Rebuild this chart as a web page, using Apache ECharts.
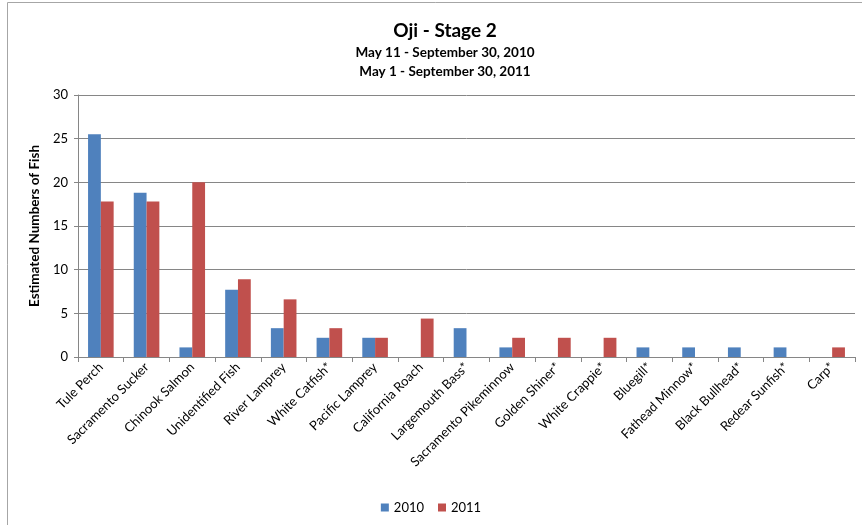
<!DOCTYPE html>
<html><head><meta charset="utf-8">
<script src="https://cdn.jsdelivr.net/npm/echarts@6/dist/echarts.min.js"></script>
<style>html,body{margin:0;padding:0;background:#fff}#c{width:862px;height:525px}</style>
</head><body><div id="c"></div>
<script>
const categories = ["Tule Perch","Sacramento Sucker","Chinook Salmon","Unidentified Fish","River Lamprey","White Catfish*","Pacific Lamprey","California Roach","Largemouth Bass*","Sacramento Pikeminnow","Golden Shiner*","White Crappie*","Bluegill*","Fathead Minnow*","Black Bullhead*","Redear Sunfish*","Carp*"];
const values2010 = [25.5,18.8,1.1,7.7,3.3,2.2,2.2,0,3.3,1.1,0,0,1.1,1.1,1.1,1.1,0];
const values2011 = [17.8,17.8,20.0,8.9,6.6,3.3,2.2,4.4,0,2.2,2.2,2.2,0,0,0,0,1.1];
const seriesNames = ["2010","2011"];
const titleText = "Oji - Stage 2";
const subtitleLines = ["May 11 - September 30, 2010","May 1 - September 30, 2011"];
const yAxisName = "Estimated Numbers of Fish";

const FONT = "Lato";
const chart = echarts.init(document.getElementById('c'), null, {renderer:'canvas'});
chart.setOption({
  animation:false,
  textStyle:{fontFamily:FONT},
  graphic:[{type:'rect',shape:{x:7.5,y:2.5,width:900,height:600},style:{fill:'none',stroke:'#a6a6a6',lineWidth:1},silent:true,z:-1}],
  title:[
    {text:titleText,left:440,top:16,textAlign:'center',textStyle:{fontFamily:FONT,fontSize:19,fontWeight:'bold',color:'#000'}},
    {text:subtitleLines.join('\n'),left:440,top:38,textAlign:'center',textStyle:{fontFamily:FONT,fontSize:13.5,fontWeight:'bold',color:'#000',lineHeight:19}}
  ],
  legend:{bottom:6,left:'center',itemWidth:8,itemHeight:8,itemGap:14,icon:'rect',textStyle:{fontFamily:FONT,fontSize:13,color:'#000'},data:seriesNames},
  grid:{left:78,right:7,top:95,bottom:168,containLabel:false},
  xAxis:{type:'category',data:categories,boundaryGap:true,
    axisLine:{lineStyle:{color:'#868686',width:1}},
    axisTick:{show:true,alignWithLabel:false,length:5,lineStyle:{color:'#868686'}},
    axisLabel:{rotate:45,interval:0,fontFamily:FONT,fontSize:13,color:'#000',margin:8}},
  yAxis:{type:'value',min:0,max:30,interval:5,
    name:yAxisName,nameLocation:'middle',nameGap:32,nameTextStyle:{fontFamily:FONT,fontSize:13.5,fontWeight:'bold',color:'#000'},
    axisLine:{show:true,lineStyle:{color:'#868686'}},
    axisTick:{show:true,length:4,lineStyle:{color:'#868686'}},
    axisLabel:{fontFamily:FONT,fontSize:13,color:'#000',margin:10},
    splitLine:{lineStyle:{color:'#868686',width:1}}},
  series:[
    {name:seriesNames[0],type:'bar',data:values2010,barWidth:'28%',barGap:'0%',itemStyle:{color:'#4F81BD'}},
    {name:seriesNames[1],type:'bar',data:values2011,barWidth:'28%',barGap:'0%',itemStyle:{color:'#C0504D'}}
  ]
});
</script></body></html>
